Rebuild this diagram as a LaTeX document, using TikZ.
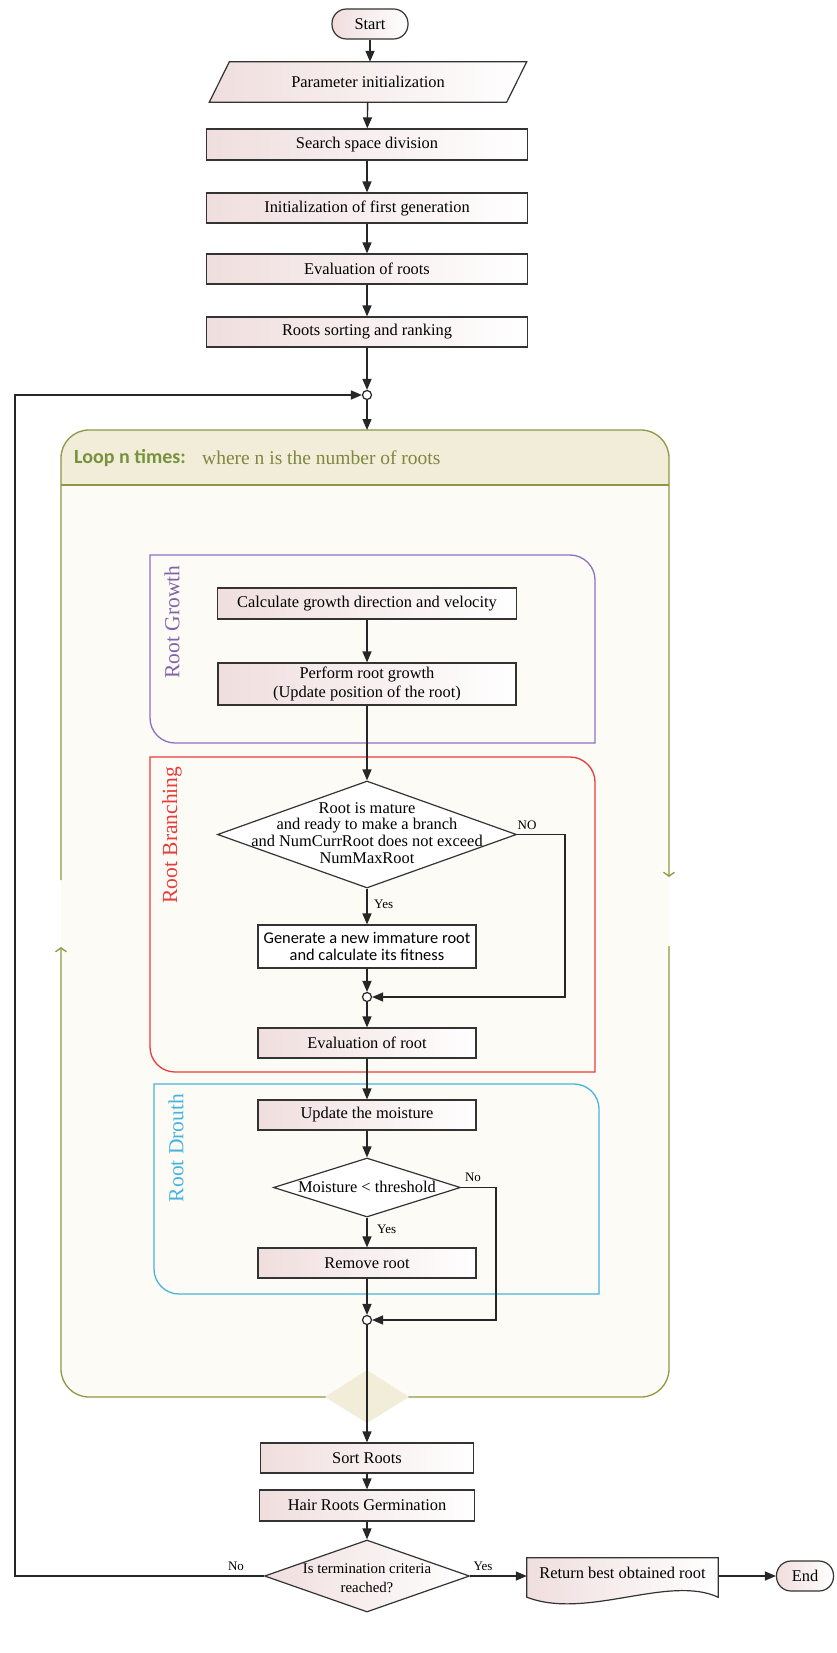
\documentclass[tikz,border=0pt]{standalone}
\usepackage{fontspec}
\setmainfont{Liberation Serif}
\newfontfamily\calibri{Carlito}
\usetikzlibrary{arrows.meta,shapes.geometric,calc,backgrounds}
\definecolor{boxpink}{RGB}{240,222,222}
\definecolor{loopbody}{RGB}{253,251,245}
\definecolor{loophead}{RGB}{242,237,216}
\definecolor{loopline}{RGB}{140,152,72}
\definecolor{loophtext}{RGB}{118,146,60}
\definecolor{loopwtext}{RGB}{125,135,65}
\definecolor{grpurple}{RGB}{142,112,192}
\definecolor{grpurpletext}{RGB}{128,100,170}
\definecolor{grred}{RGB}{232,60,60}
\definecolor{grcyan}{RGB}{70,180,222}
\newcommand\fmain{\fontsize{16.4}{16.8}\selectfont}
\newcommand\fmainb{\fontsize{16.4}{19.5}\selectfont}
\newcommand\fsmall{\fontsize{14.8}{19}\selectfont}
\newcommand\flab{\fontsize{13}{15}\selectfont}
\newcommand\fgrp{\fontsize{21.5}{24}\selectfont}
\newcommand\grpbox[6]{\draw[#1, line width=1.3pt] (#2,#3) -- (#4-#6,#3) .. controls (#4-0.45*#6,#3) and (#4,#3+0.45*#6) .. (#4,#3+#6) -- (#4,#5) -- (#2+#6,#5) .. controls (#2+0.45*#6,#5) and (#2,#5-0.45*#6) .. (#2,#5-#6) -- cycle;}
\begin{document}
\begin{tikzpicture}[x=1pt,y=-1pt,
  conn/.style={draw=black!85, line width=1.4pt},
  arr/.style={conn, -{Triangle[length=11pt,width=9pt]}},
  pbox/.style={rectangle, draw=black!80, line width=1.2pt, left color=boxpink, right color=white, inner sep=0pt, align=center, font=\fmain, minimum width=218, minimum height=30},
  wbox/.style={rectangle, draw=black!80, line width=1.2pt, fill=white, inner sep=0pt, align=center},
  dia/.style={diamond, draw=black!80, line width=1.2pt, fill=white, inner sep=0pt},
  term/.style={rectangle, rounded corners=14.5pt, draw=black!80, line width=1.2pt, left color=boxpink, right color=white, inner sep=0pt, minimum height=30, font=\fmain},
  junc/.style={circle, draw=black!85, line width=1.2pt, fill=white, minimum size=9pt, inner sep=0pt},
  lab/.style={font=\flab, inner sep=1pt},
  loopedge/.style={draw=loopline, line width=1.3pt, rounded corners=28pt, -{Straight Barb[length=4pt,width=11pt]}}
]
\useasboundingbox (0,0) rectangle (836,1653);

% loop container
\fill[loopbody, rounded corners=28pt] (61,430) rectangle (669,1397);
\begin{scope}
\clip[rounded corners=28pt] (61,430) rectangle (669,1397);
\fill[loophead] (61,430) rectangle (669,485);
\end{scope}
\draw[loopline, line width=1.3pt] (61,485) -- (669,485);
\draw[loopedge] (61,880) -- (61,430) -- (669,430) -- (669,877);
\draw[loopedge] (669,946) -- (669,1397) -- (61,1397) -- (61,947);
\fill[loophead] (367,1370) -- (409,1397) -- (367,1423) -- (325,1397) -- cycle;
\node[anchor=west, font=\calibri\bfseries\fontsize{20}{24}\selectfont, text=loophtext, inner sep=0pt] (lhead) at (74,458) {Loop n times:};
\node[anchor=west, font=\fontsize{19.5}{24}\selectfont, text=loopwtext, inner sep=0pt] (lwhere) at (202,458) {where n is the number of roots};

% groups
\grpbox{grpurple}{150}{555}{595}{743}{25}
\grpbox{grred}{150}{757}{595}{1072}{25}
\grpbox{grcyan}{154}{1084}{599}{1294}{25}
\node[rotate=90, font=\fgrp, text=grpurpletext] (lgrow) at (172,622) {Root Growth};
\node[rotate=90, font=\fgrp, text=grred] (lbranch) at (172,835) {Root Branching};
\node[rotate=90, font=\fgrp, text=grcyan] (ldrouth) at (176,1148) {Root Drouth};

% nodes
\node[term, minimum width=76] (start) at (370,24) {Start};
\node[font=\fmain, minimum width=297, minimum height=40, inner sep=0pt] (param) at (368,82) {Parameter initialization};
\node[pbox, minimum width=321, minimum height=31] (ssd) at (367,144.5) {Search space division};
\node[pbox, minimum width=321] (ifg) at (367,208) {Initialization of first generation};
\node[pbox, minimum width=321] (eor) at (367,269) {Evaluation of roots};
\node[pbox, minimum width=321] (rsr) at (367,332) {Roots sorting and ranking};
\node[junc] (j1) at (367,395) {};
\coordinate (looptop) at (367,430);

\node[pbox, minimum width=299, minimum height=31] (cgd) at (367,603.5) {Calculate growth direction and velocity};
\node[pbox, minimum width=298, minimum height=42, font=\fmainb] (prg) at (367,684) {Perform root growth\\(Update position of the root)};
\node[dia, minimum width=299, minimum height=107] (dia1) at (367,834.5) {};
\node[font=\fmain, align=center, inner sep=0pt] (dia1t) at (367,833) {Root is mature\\and ready to make a branch\\and NumCurrRoot does not exceed\\NumMaxRoot};
\node[wbox, minimum width=218, minimum height=43, font=\calibri\fontsize{16.4}{17.7}\selectfont] (gen) at (367,946.5) {Generate a new immature root\\and calculate its fitness};
\node[junc] (j2) at (367,997) {};
\node[pbox] (eval) at (367,1043) {Evaluation of root};
\node[pbox] (upd) at (367,1115) {Update the moisture};
\node[dia, minimum width=187, minimum height=59] (dia2) at (367,1187.5) {};
\node[font=\fmain, inner sep=0pt] (dia2t) at (367,1187) {Moisture < threshold};
\node[pbox] (rem) at (367,1263) {Remove root};
\node[junc] (j3) at (367,1320) {};
\node[pbox, minimum width=213] (sort) at (367,1458) {Sort Roots};
\node[pbox, minimum width=215, minimum height=31] (hair) at (367,1505.5) {Hair Roots Germination};
\node[dia, left color=boxpink, right color=white, minimum width=205, minimum height=72] (dia3) at (367,1576) {};
\node[font=\fsmall, align=center, inner sep=0pt] (dia3t) at (367,1578) {Is termination criteria\\reached?};
\node[font=\fmain, minimum width=191, minimum height=30, inner sep=0pt] (doc) at (622.5,1573) {Return best obtained root};
\node[term, minimum width=57] (end) at (805,1576) {End};

\begin{scope}[on background layer]
\fill[white] (0,0) rectangle (836,1653);
\path[draw=black!80, line width=1.2pt, left color=boxpink, right color=white]
  ([xshift=10pt]param.north west) -- ([xshift=10pt]param.north east) -- ([xshift=-10pt]param.south east) -- ([xshift=-10pt]param.south west) -- cycle;
\path[draw=black!80, line width=1.2pt, left color=boxpink, right color=white]
  (doc.north west) -- (doc.north east) -- ($(doc.south east)+(0,9)$)
  .. controls ($(doc.south east)+(-50,-14)$) and ($(doc.south west)+(60,32)$) .. ($(doc.south west)+(0,9)$) -- cycle;
\end{scope}

% helper coordinates
\coordinate (nox) at (565,0);
\coordinate (nox2) at (496,0);
\coordinate (lbx) at (15,0);

% connectors
\draw[arr] (start.south) -- (start.south |- param.north);
\draw[arr] (param) -- (ssd);
\draw[arr] (ssd) -- (ifg);
\draw[arr] (ifg) -- (eor);
\draw[arr] (eor) -- (rsr);
\draw[arr] (rsr) -- (j1);
\draw[arr] (j1) -- (looptop);
\draw[arr] (cgd) -- (prg);
\draw[arr] (prg) -- (dia1);
\draw[arr] (dia1) -- (gen);
\draw[arr] (gen) -- (j2);
\draw[arr] (j2) -- (eval);
\draw[arr] (eval) -- (upd);
\draw[arr] (upd) -- (dia2);
\draw[arr] (dia2) -- (rem);
\draw[arr] (rem) -- (j3);
\draw[arr] (j3) -- (sort);
\draw[arr] (sort) -- (hair);
\draw[arr] (hair) -- (dia3);
\draw[arr] (dia3.east) -- (dia3.east -| doc.west);
\draw[arr] (doc.east |- end.west) -- (end.west);
\draw[arr] (dia1.east) -- (dia1.east -| nox) -- (j2 -| nox) -- (j2);
\draw[arr] (dia2.east) -- (dia2.east -| nox2) -- (j3 -| nox2) -- (j3);
\draw[arr] (dia3.west) -- (dia3.west -| lbx) -- (j1 -| lbx) -- (j1);

% labels
\node[lab] (lno1) at (527,825) {NO};
\node[lab, anchor=west] (lyes1) at (373,904) {Yes};
\node[lab] (lno2) at (473,1177) {No};
\node[lab, anchor=west] (lyes2) at (376,1229) {Yes};
\node[lab] (lno3) at (236,1566) {No};
\node[lab] (lyes3) at (483,1566) {Yes};
\end{tikzpicture}
\end{document}
